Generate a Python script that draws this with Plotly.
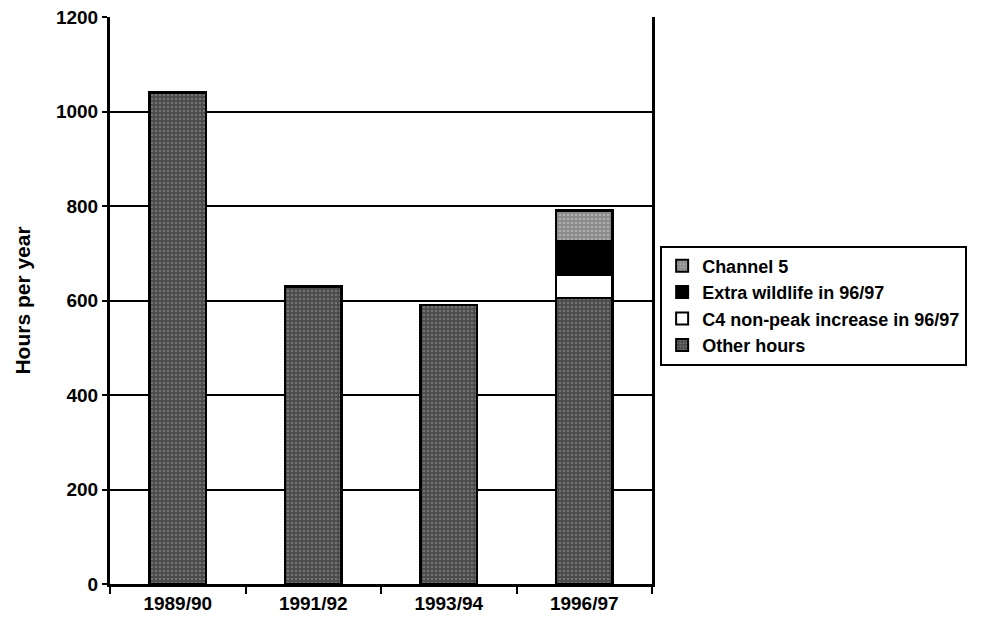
import plotly.graph_objects as go

# Broadcast hours per year by season
seasons = ["1989/90", "1991/92", "1993/94", "1996/97"]
other_hours = [1040, 630, 590, 605]
c4_nonpeak = [0, 0, 0, 50]
extra_wildlife = [0, 0, 0, 70]
channel5 = [0, 0, 0, 65]

y_ticks = [0, 200, 400, 600, 800, 1000, 1200]

FONT = "Liberation Sans, Arial, sans-serif"

fig = go.Figure()

series = [
    ("Other hours", other_hours, dict(color="#5a5a5a",
                                      pattern=dict(shape=".", fgcolor="#9a9a9a", bgcolor="#4a4a4a",
                                                   size=4, solidity=0.35))),
    ("C4 non-peak increase in 96/97", c4_nonpeak, dict(color="white")),
    ("Extra wildlife in 96/97", extra_wildlife, dict(color="black")),
    ("Channel 5", channel5, dict(color="#9a9a9a",
                                 pattern=dict(shape=".", fgcolor="#cfcfcf", bgcolor="#8a8a8a",
                                              size=4, solidity=0.35))),
]

for name, vals, mk in series:
    fig.add_trace(go.Bar(
        x=seasons, y=vals, name=name, width=0.42,
        marker=dict(**mk, line=dict(color="black", width=2.5)),
    ))

fig.update_layout(
    barmode="stack",
    width=990, height=625,
    margin=dict(l=110, r=338, t=17, b=41, autoexpand=False),
    paper_bgcolor="white", plot_bgcolor="white",
    font=dict(family=FONT, size=19, color="black", weight="bold"),
    showlegend=True,
    legend=dict(
        x=1.015, xanchor="left", y=0.597, yanchor="top",
        traceorder="reversed",
        bordercolor="black", borderwidth=2,
        font=dict(family=FONT, size=18, color="black", weight="bold"),
        itemsizing="constant",
    ),
    xaxis=dict(
        showline=True, linecolor="black", linewidth=3, mirror=False,
        ticks="outside", tickson="boundaries", ticklen=7, tickwidth=2, tickcolor="black",
        tickfont=dict(size=19),
        showgrid=False,
    ),
    yaxis=dict(
        range=[0, 1200], tickvals=y_ticks,
        showline=True, linecolor="black", linewidth=3, mirror=True,
        ticks="outside", ticklen=5, tickwidth=2, tickcolor="black",
        gridcolor="black", gridwidth=2,
        tickfont=dict(size=19),
        title=dict(text="Hours per year", font=dict(size=21), standoff=20),
    ),
)

fig.write_html("out.html")
